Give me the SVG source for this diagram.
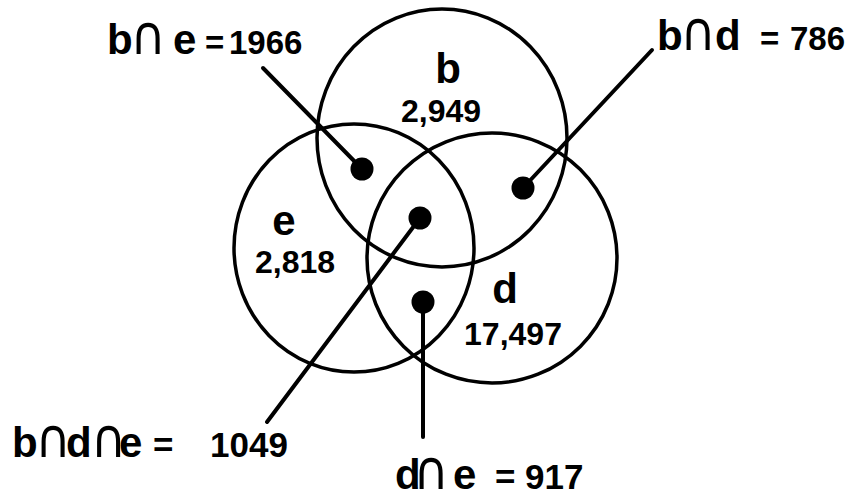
<svg xmlns="http://www.w3.org/2000/svg" width="851" height="493" viewBox="0 0 851 493">
<style>
.c{fill:none;stroke:#000;stroke-width:3.5}
.l{stroke:#000;stroke-width:4;stroke-linecap:round}
.dot{fill:#000}
.lab{font-family:"Liberation Sans",Arial,sans-serif;font-weight:bold;font-size:42px;fill:#000}
.cap{font-family:"DejaVu Sans Condensed","DejaVu Sans",sans-serif;font-weight:normal;font-size:54px;font-stretch:condensed;fill:#000}
.num{font-family:"Liberation Sans",Arial,sans-serif;font-weight:bold;font-size:32px;fill:#000}
.eq{font-family:"Liberation Sans",Arial,sans-serif;font-weight:bold;font-size:33px;fill:#000}
.eqb{font-family:"Liberation Sans",Arial,sans-serif;font-weight:bold;font-size:35px;fill:#000}
</style>
<rect width="851" height="493" fill="#fff"/>
<g id="circle-b"><ellipse class="c" cx="442" cy="138" rx="125" ry="129"/><text class="lab" x="448" y="83" text-anchor="middle">b</text><text class="num" x="441" y="122" text-anchor="middle">2,949</text></g>
<g id="circle-e"><ellipse class="c" cx="354" cy="248" rx="120" ry="124"/><text class="lab" x="284" y="235" text-anchor="middle">e</text><text class="num" x="295" y="273" text-anchor="middle">2,818</text></g>
<g id="circle-d"><ellipse class="c" cx="492" cy="258" rx="125" ry="125"/><text class="lab" x="505" y="303" text-anchor="middle">d</text><text class="num" x="513" y="345" text-anchor="middle">17,497</text></g>
<g id="connectors">
<line class="l" x1="263" y1="68" x2="362" y2="169"/>
<line class="l" x1="652" y1="50" x2="523" y2="188"/>
<line class="l" x1="267" y1="422" x2="420" y2="218"/>
<line class="l" x1="423" y1="302" x2="423" y2="437"/>
</g>
<g id="dot-be"><circle class="dot" cx="362" cy="169" r="11.5"/></g>
<g id="dot-bd"><circle class="dot" cx="523" cy="188" r="11.5"/></g>
<g id="dot-bde"><circle class="dot" cx="420" cy="218" r="11.5"/></g>
<g id="dot-de"><circle class="dot" cx="423" cy="302" r="11.5"/></g>
<g id="label-be"><text y="54"><tspan class="lab" x="107">b</tspan><tspan class="cap" x="130.5">∩</tspan><tspan class="lab" x="173">e</tspan><tspan class="eq" x="200 205 229"> =1966</tspan></text></g>
<g id="label-bd"><text y="50"><tspan class="lab" x="657">b</tspan><tspan class="cap" x="680.5">∩</tspan><tspan class="lab" x="715">d</tspan><tspan class="eq" x="745 760 780 790"> = 786</tspan></text></g>
<g id="label-bde"><text y="457"><tspan class="lab" x="12">b</tspan><tspan class="cap" x="35.5">∩</tspan><tspan class="lab" x="66">d</tspan><tspan class="cap" x="91">∩</tspan><tspan class="lab" x="119">e</tspan><tspan class="eqb" x="148 153 195 210"> = 1049</tspan></text></g>
<g id="label-de"><text y="489"><tspan class="lab" x="395">d</tspan><tspan class="cap" x="413.5">∩</tspan><tspan class="lab" x="453">e</tspan><tspan class="eqb" x="490 495 518 525"> = 917</tspan></text></g>
</svg>
